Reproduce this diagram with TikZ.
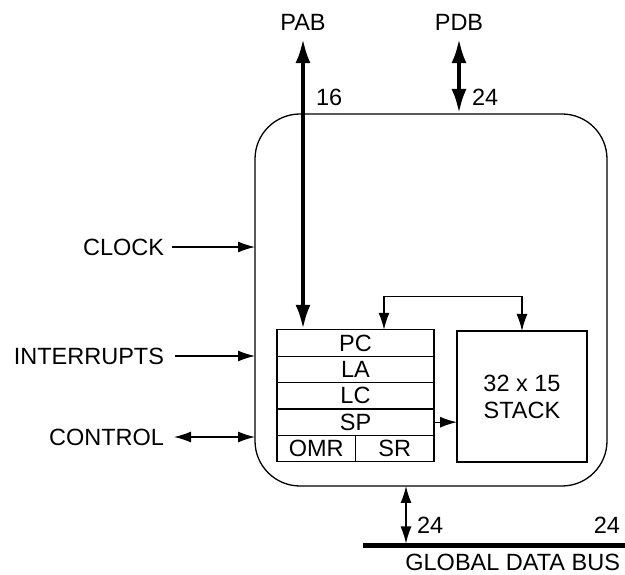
\documentclass[tikz,border=0pt]{standalone}
\usepackage{fontspec}
\setmainfont{Liberation Sans}
\usetikzlibrary{arrows.meta, positioning}

\begin{document}
\begin{tikzpicture}[x=1pt, y=1pt]
        \tikzset{
            every node/.style={font=\fontsize{23.5}{27}\selectfont, inner sep=0pt, outer sep=0pt},
            block/.style={draw, line width=1.3pt},
            reg/.style={block, minimum width=157pt, minimum height=26.4pt},
            sig/.style={line width=1.3pt, -{Latex[length=17pt, width=11pt]}},
            sigboth/.style={line width=1.3pt, {Latex[length=17pt, width=11pt]}-{Latex[length=17pt, width=11pt]}},
            bus/.style={line width=4.5pt, {Latex[length=25pt, width=15pt]}-{Latex[length=25pt, width=15pt]}}
        }
        \useasboundingbox (0,0) rectangle (625,575);

        % Nodes
        \node[block, rounded corners=45pt, minimum width=352pt, minimum height=372pt] (core) at (431,275) {};
        \node[reg] (pc) at (355.5,232) {PC};
        \node[reg, below=0pt of pc] (la) {LA};
        \node[reg, below=0pt of la] (lc) {LC};
        \node[reg, below=0pt of lc] (sp) {SP};
        \node[block, minimum width=78.5pt, minimum height=26.4pt, anchor=north west] (omr) at (sp.south west) {OMR};
        \node[block, minimum width=78.5pt, minimum height=26.4pt, right=0pt of omr] (sr) {SR};
        \node[block, minimum width=130pt, minimum height=131pt, align=center] (stack) at (522,178.5) {32 x 15\\STACK};

        \node (pab) at (303,553) {PAB};
        \node (pdb) at (459,553) {PDB};
        \node[anchor=west] (w16) at (316,478) {16};
        \node[anchor=west] (w24) at (472,478) {24};

        \node[anchor=east] (clock) at (164,328) {CLOCK};
        \node[anchor=east] (irq) at (164,219) {INTERRUPTS};
        \node[anchor=east] (ctrl) at (164,138) {CONTROL};

        \coordinate (tap) at (406,31.5);
        \coordinate (gdbl) at (363,29);
        \coordinate (gdbr) at (625,29);
        \node[anchor=west] (g24a) at (417,50) {24};
        \node[anchor=east] (g24b) at (620,50) {24};
        \node[anchor=east] (gdb) at (620,12.5) {GLOBAL DATA BUS};

        % Edges
        \draw[bus] (pc.north -| pab) -- ([yshift=-8pt]pab.south);
        \draw[bus] (core.north -| pdb) -- ([yshift=-8pt]pdb.south);
        \draw[sig] ([xshift=8pt]clock.east) -- (clock.east -| core.west);
        \draw[sig] ([xshift=11pt]irq.east) -- (irq.east -| core.west);
        \draw[sigboth] ([xshift=10pt]ctrl.east) -- (ctrl.east -| core.west);
        \draw[sigboth] ([xshift=28.5pt]pc.north) -- ++(0,33) -| (stack.north);
        \draw[sig] (sp.east) -- (sp.east -| stack.west);
        \draw[sigboth] (core.south -| tap) -- (tap);
        \draw[line width=5pt] (gdbl) -- (gdbr);
    \end{tikzpicture}
\end{document}
